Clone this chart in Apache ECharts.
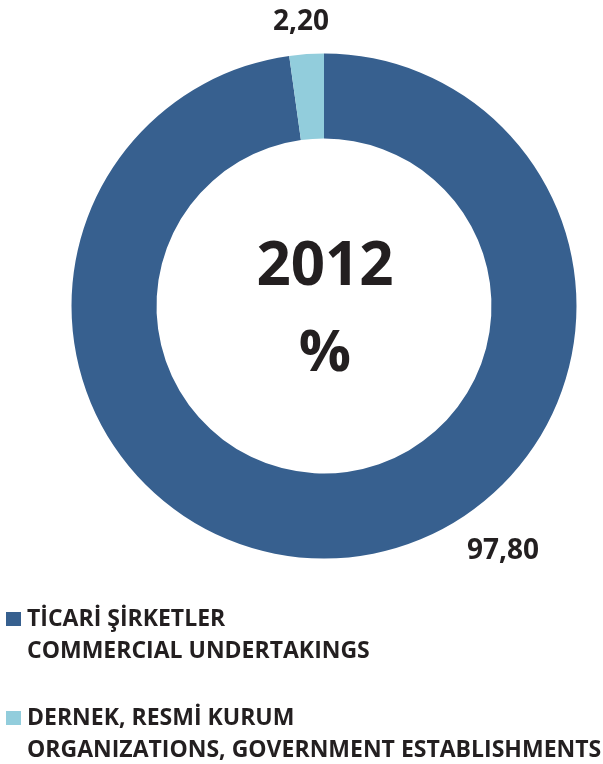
<!DOCTYPE html>
<html><head><meta charset="utf-8">
<script src="https://cdn.jsdelivr.net/npm/echarts@6/dist/echarts.min.js"></script>
<style>html,body{margin:0;padding:0;background:#fff}#c{width:603px;height:764px}</style>
</head><body><div id="c"></div>
<script>
const namesTR = ['TİCARİ ŞİRKETLER', 'DERNEK, RESMİ KURUM'];
const namesEN = ['COMMERCIAL UNDERTAKINGS', 'ORGANIZATIONS, GOVERNMENT ESTABLISHMENTS'];
const values = [97.80, 2.20];
const yearLabel = '2012';
const unitLabel = '%';

const colors = ['#37608F', '#92CDDC'];
const labelPos = [[503, 551], [301, 22]];
const FONT = '"Open Sans"';
const chart = echarts.init(document.getElementById('c'), null, {renderer: 'canvas'});
chart.setOption({
  animation: false,
  color: colors,
  legend: {
    orient: 'vertical', left: 6, top: 571, height: 200, padding: 0,
    itemWidth: 15, itemHeight: 14, itemGap: 3, icon: 'rect',
    data: namesTR,
    formatter: n => { const i = namesTR.indexOf(n); return '\n' + n + '\n' + namesEN[i]; },
    textStyle: {fontFamily: FONT, fontWeight: 'bold', fontSize: 23, color: '#231F20', lineHeight: 32, padding: [0,0,0,1]}
  },
  graphic: [
    {type: 'text', x: 325, y: 268, style: {text: yearLabel, font: 'bold 60px ' + FONT, fill: '#231F20', align: 'center', verticalAlign: 'middle'}},
    {type: 'text', x: 325, y: 354, style: {text: unitLabel, font: 'bold 58px ' + FONT, fill: '#231F20', align: 'center', verticalAlign: 'middle'}}
  ],
  series: [{
    type: 'pie', center: [324, 306], radius: [167.5, 252.5], startAngle: 90, clockwise: true,
    avoidLabelOverlap: false,
    data: values.map((v, i) => ({name: namesTR[i], value: v})),
    label: {show: true, position: 'outside', formatter: p => p.value.toFixed(2).replace('.', ','),
      fontFamily: FONT, fontWeight: 'bold', fontSize: 28, color: '#231F20'},
    labelLine: {show: false},
    labelLayout: p => ({x: labelPos[p.dataIndex][0], y: labelPos[p.dataIndex][1], align: 'center', verticalAlign: 'middle'}),
    itemStyle: {borderWidth: 0},
    emphasis: {disabled: true}
  }]
});
</script></body></html>
